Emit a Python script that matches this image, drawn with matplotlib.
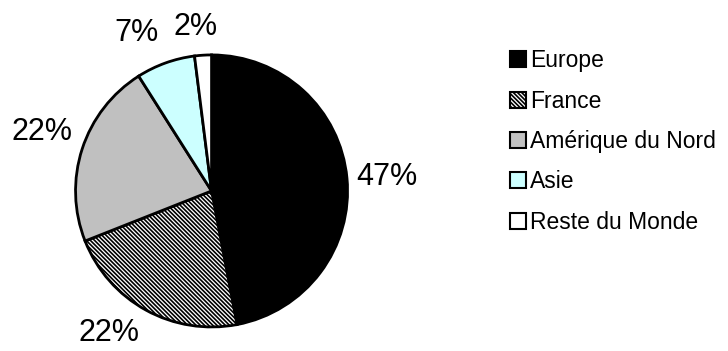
import matplotlib.pyplot as plt
import numpy as np

plt.rcParams['font.family'] = ['Liberation Sans', 'DejaVu Sans']
plt.rcParams['hatch.color'] = '#1a1a1a'
plt.rcParams['hatch.linewidth'] = 1.2

regions = ['Europe', 'France', 'Amérique du Nord', 'Asie', 'Reste du Monde']
shares = [47, 22, 22, 7, 2]
colors = ['black', 'white', '#c0c0c0', '#ccffff', 'white']
hatches = [None, '\\\\\\\\\\\\\\\\', None, None, None]

# label placement (radius, angle in degrees)
lab_r = [1.29, 1.29, 1.32, 1.29, 1.21]
lab_ang = [4.6, 234.2, 161, 115.5, 95.7]

fig = plt.figure(figsize=(7.28, 3.51), dpi=100)
ax = fig.add_axes([-0.0084, -0.164, 0.598, 1.24])

wedges, _ = ax.pie(shares, colors=colors, startangle=90, counterclock=False,
                   wedgeprops=dict(edgecolor='black', linewidth=2))
for w, h in zip(wedges, hatches):
    if h:
        w.set_hatch(h)

for s, r, a in zip(shares, lab_r, lab_ang):
    t = np.deg2rad(a)
    ax.text(r*np.cos(t), r*np.sin(t), '%d%%' % s, fontsize=22,
            ha='center', va='center')

ax.set_xlim(-1.6, 1.6)
ax.set_ylim(-1.6, 1.6)
ax.set_aspect('equal')
ax.axis('off')

leg = fig.legend(wedges, regions, loc='upper left', bbox_to_anchor=(0.700, 0.86),
                 frameon=False, fontsize=16.5, handlelength=0.7, handleheight=0.7,
                 handletextpad=0.2, labelspacing=0.76, borderaxespad=0, borderpad=0)
for h in leg.legend_handles:
    h.set_linewidth(1.5)

fig.savefig('out.png', dpi=100)
